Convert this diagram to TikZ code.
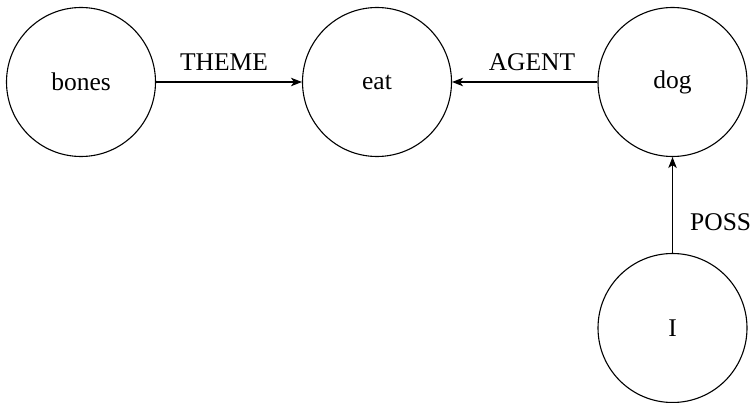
\documentclass[tikz,border=0pt]{standalone}
\usepackage{fontspec}
\setmainfont{Liberation Serif}
\usetikzlibrary{arrows.meta}
\begin{document}
\begin{tikzpicture}[x=1pt,y=-1pt,
  concept/.style={draw, circle, line width=1.1pt, minimum size=149pt, inner sep=0pt,
    font=\fontsize{25.5}{30}\selectfont},
  rel/.style={line width=1.1pt, -{Stealth[length=11pt,width=8.5pt,inset=3pt]}},
  lbl/.style={font=\fontsize{25.5}{30}\selectfont, inner sep=0pt}]
\useasboundingbox (0,0) rectangle (754,403);
\node[concept] (bones) at (81,82) {bones};
\node[concept] (eat) at (377,82) {eat};
\node[concept] (dog) at (672.5,82) {dog};
\node[concept] (I) at (672.5,328) {I};
\draw[rel] (bones) -- (eat);
\draw[rel] (dog) -- (eat);
\draw[rel] (I) -- (dog);
\node[lbl, anchor=base] (theme) at (224,71) {THEME};
\node[lbl, anchor=base] (agent) at (532,71) {AGENT};
\node[lbl, anchor=base west] (poss) at (690,230) {POSS};
\end{tikzpicture}
\end{document}
